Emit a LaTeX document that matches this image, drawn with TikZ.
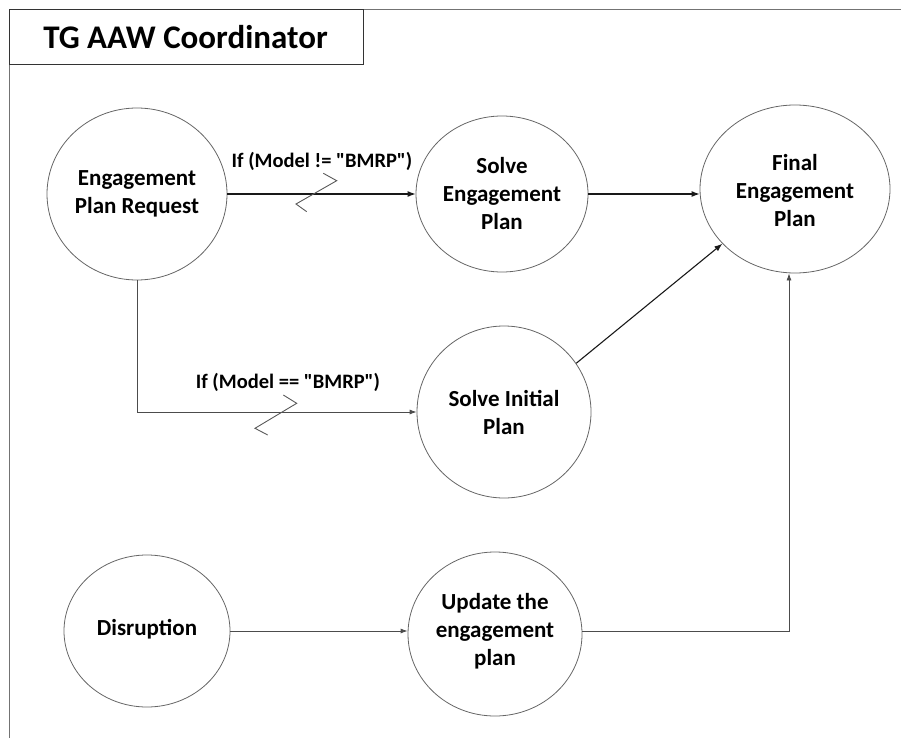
\documentclass[tikz,border=0pt]{standalone}
\usepackage{fontspec}
\setmainfont{Carlito}[Ligatures=TeXOff]
\usetikzlibrary{shapes.geometric,arrows.meta}

\tikzset{
  stateshape/.style={draw=black!60, line width=0.8pt, ellipse, inner sep=0pt},
  statetext/.style={align=center, font=\fontsize{23}{28}\selectfont\bfseries, inner sep=0pt},
  condtext/.style={font=\fontsize{20.5}{24}\selectfont\bfseries, inner sep=0pt},
  flow/.style={draw=black!90, line width=1.1pt, -{Latex[length=8pt,width=6pt]}},
  thinflow/.style={draw=black!70, line width=0.8pt, -{Latex[length=7pt,width=5pt]}},
  zigzag/.style={draw=black!65, line width=0.9pt},
  frameline/.style={draw=black!55, line width=0.8pt}
}

\begin{document}
\begin{tikzpicture}[x=1pt, y=-1pt]
  \useasboundingbox (0,0) rectangle (901,738);

  % outer frame and title tab
  \draw[frameline] (9,738) -- (9,9) -- (901,9);
  \node[draw=black!80, line width=1pt, minimum width=354pt, minimum height=55pt,
        inner sep=0pt, anchor=north west] (title) at (9,9) {};
  \node[font=\fontsize{33}{37}\selectfont\bfseries, inner sep=0pt] (titletext) at ([xshift=-1pt]title.center) {TG AAW Coordinator};

  % states
  \node[stateshape, minimum width=180pt, minimum height=172pt] (req)   at (137,194) {};
  \node[stateshape, minimum width=172pt, minimum height=156pt] (solve) at (502,194) {};
  \node[stateshape, minimum width=190pt, minimum height=168pt] (final) at (795,189) {};
  \node[stateshape, minimum width=174pt, minimum height=172pt] (init)  at (504,412) {};
  \node[stateshape, minimum width=166pt, minimum height=152pt] (disr)  at (147,631) {};
  \node[stateshape, minimum width=174pt, minimum height=164pt] (upd)   at (495,634) {};

  \node[statetext] (reqtxt)   at (req)   {Engagement\\Plan Request};
  \node[statetext] (solvetxt) at (solve) {Solve\\Engagement\\Plan};
  \node[statetext] (finaltxt) at (795,191) {Final\\Engagement\\Plan};
  \node[statetext] (inittxt)  at (init)  {Solve Initial\\Plan};
  \node[statetext] (disrtxt)  at (147,629) {Disruption};
  \node[statetext] (updtxt)   at (495,631) {Update the\\engagement\\plan};

  % conditions
  \node[condtext] (condne) at (322,161) {If (Model != "BMRP")};
  \node[condtext] (condeq) at (288,382) {If (Model == "BMRP")};

  % connectors
  \draw[flow] (req) -- (solve);
  \draw[flow] (solve.east |- req) -- (final.west |- req);
  \draw[thinflow] (req.south) |- (init.west);
  \draw[flow] (init.34) -- (final.217);
  \draw[thinflow] (disr) -- (upd.west |- disr);
  \draw[thinflow] (upd.east |- disr) -| ([xshift=-6pt]final.south);

  % lightning marks on the conditional branches
  \draw[zigzag] (323.3,173.3) -- (336.7,180.7) -- (296,204) -- (306.7,211.7);
  \draw[zigzag] (283.3,395) -- (296.7,403.3) -- (255,428.3) -- (267.7,435);
\end{tikzpicture}
\end{document}
